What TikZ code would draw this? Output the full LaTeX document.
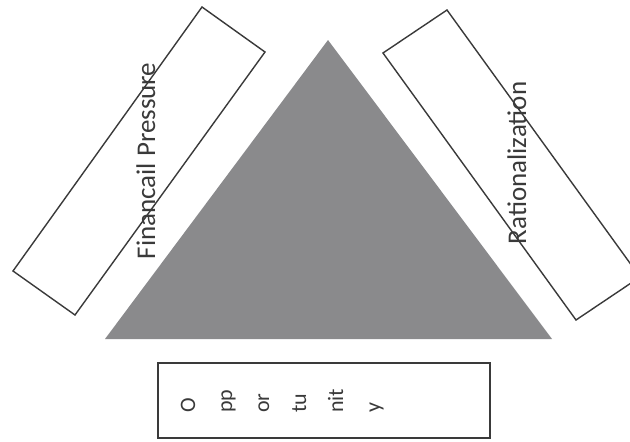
\documentclass[tikz,border=0pt]{standalone}
\usepackage{fontspec}
\setmainfont{Carlito}
\definecolor{tri}{HTML}{8A8A8C}
\definecolor{ink}{HTML}{3A3A3A}
\tikzset{
  box/.style={draw=ink, line width=1.4pt, fill=white, line join=miter},
  sidetext/.style={rotate=90, anchor=base, text=ink, font=\fontsize{27}{30}\selectfont, inner sep=0pt},
  bottext/.style={rotate=90, anchor=base west, text=ink, font=\fontsize{22}{24}\selectfont, inner sep=0pt},
}
\begin{document}
\begin{tikzpicture}[x=1pt,y=-1pt]
\useasboundingbox (0,0) rectangle (630,442);
\begin{scope}
\clip (0,0) rectangle (630,442);
% triangle
\fill[tri] (328,40) -- (552,339) -- (105,339) -- cycle;
% left box
\draw[box] (13,271) -- (202,7) -- (265,52) -- (75,315) -- cycle;
% right box
\draw[box] (383,53) -- (447,10) -- (640,277) -- (576,320) -- cycle;
% bottom box
\draw[box] (158,363) rectangle (490,438);
\end{scope}
\node[sidetext] (fp) at (155,161) {Financail Pressure};
\node[sidetext] (ra) at (526,163) {Rationalization};
\node[bottext] (o1) at (195,413) {O};
\node[bottext] (o2) at (232,413) {pp};
\node[bottext] (o3) at (269,413) {or};
\node[bottext] (o4) at (306,413) {tu};
\node[bottext] (o5) at (343,413) {nit};
\node[bottext] (o6) at (380,413) {y};
\end{tikzpicture}
\end{document}
